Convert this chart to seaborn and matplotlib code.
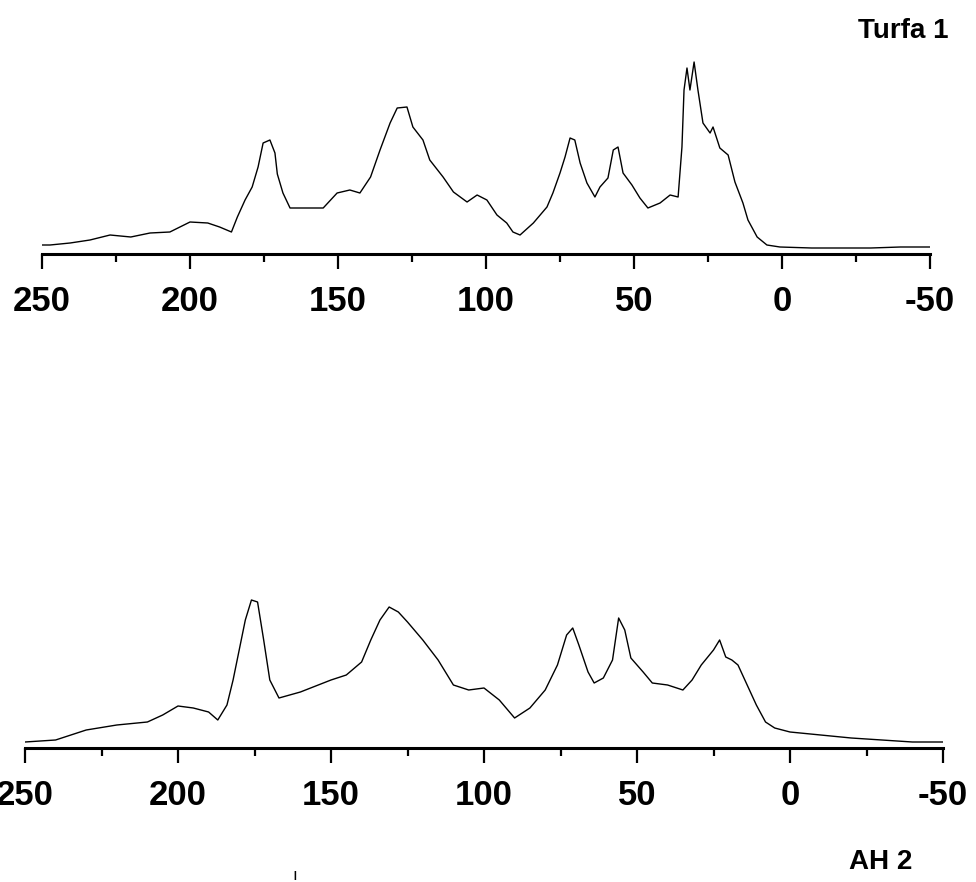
import matplotlib
matplotlib.use("Agg")
import matplotlib.pyplot as plt
from matplotlib.ticker import MultipleLocator
import seaborn as sns
import pandas as pd

# ---- data ----
turfa_ppm = [250, 247.3, 240.5, 233.8, 227, 220, 213.5, 206.8, 200, 194, 190, 186, 184, 181.4, 179,
             177, 175.3, 173, 171.3, 170.5, 168.6, 166.2, 161.8, 155, 150.3, 146, 142.6, 139, 135.8,
             132.4, 130, 126.7, 124.7, 121.3, 119, 114.5, 111, 106.4, 103, 99.7, 96.3, 93, 90.9, 88.5,
             84, 79.4, 77.4, 75, 73.3, 71.6, 70, 68.2, 65.9, 63.2, 61.5, 58.8, 57, 55.4, 53.7, 50.7,
             48, 45.3, 41.2, 37.8, 35.1, 33.8, 33.1, 32.1, 31.1, 29.7, 28.4, 26.7, 24.3, 23.3, 21,
             18.2, 15.9, 13.2, 11.5, 8.4, 5.1, 0.7, -10, -20, -30, -40, -50]
turfa_int = [9, 9, 11, 14, 19, 17, 21, 22, 32, 31, 27, 22, 37, 54, 67,
             87, 111, 114, 101, 80, 61, 46, 46, 46, 61, 64, 61, 77, 104,
             131, 146, 147, 127, 114, 94, 77, 62, 52, 59, 54, 39, 31, 22, 19,
             31, 47, 61, 81, 97, 116, 114, 91, 71, 57, 67, 76, 104, 107, 81, 69,
             56, 46, 51, 59, 57, 107, 164, 186, 164, 192, 164, 131, 121, 127, 106,
             99, 72, 51, 34, 17, 9, 7, 6, 6, 6, 7, 7]

ah2_ppm = [250, 240, 230, 220, 210, 205, 200, 195, 190, 187, 184, 182, 180, 178, 176, 174, 172,
           170, 167, 160, 150, 145, 140, 137, 134, 131, 128, 125, 120, 115, 110, 105, 100, 95,
           90, 85, 80, 76, 73, 71, 69, 66, 64, 61, 58, 56, 54, 52, 48, 45, 40, 35, 32, 29, 25,
           23, 21, 19, 17, 14, 11, 8, 5, 0, -10, -20, -30, -40, -50]
ah2_int = [6, 8, 18, 23, 26, 33, 42, 40, 36, 28, 43, 68, 98, 128, 148, 146, 108,
           68, 50, 56, 68, 73, 86, 108, 128, 141, 136, 126, 108, 88, 63, 58, 60, 48,
           30, 40, 58, 83, 113, 120, 103, 76, 65, 70, 88, 130, 118, 90, 76, 65, 63, 58, 68, 83, 98,
           108, 91, 88, 83, 63, 43, 26, 20, 16, 13, 10, 8, 6, 6]

tick_major = [250, 200, 150, 100, 50, 0, -50]
tick_labels = ["250", "200", "150", "100", "50", "0", "-50"]
panel_titles = ["Turfa 1", "AH 2"]

# ---- style ----
sns.set_style("white")
plt.rcParams["font.family"] = ["Liberation Sans", "DejaVu Sans"]
plt.rcParams["text.color"] = "black"

W, H = 976, 882
fig = plt.figure(figsize=(W / 100, H / 100), dpi=100)

def make_axes(left_px, right_px, base_px, height_px):
    return fig.add_axes([left_px / W, 1 - base_px / H, (right_px - left_px) / W, height_px / H])

ax1 = make_axes(42, 930, 254, 214)
ax2 = make_axes(25, 943, 748, 170)

df1 = pd.DataFrame({"ppm": turfa_ppm, "intensity": turfa_int})
df2 = pd.DataFrame({"ppm": ah2_ppm, "intensity": ah2_int})

for ax, df, ymax in [(ax1, df1, 214), (ax2, df2, 170)]:
    sns.lineplot(data=df, x="ppm", y="intensity", ax=ax, color="black", linewidth=1.0,
                 sort=False, estimator=None)
    ax.set_xlim(250, -50)
    ax.set_ylim(0, ymax)
    for s in ["top", "left", "right"]:
        ax.spines[s].set_visible(False)
    ax.spines["bottom"].set_linewidth(2.2)
    ax.spines["bottom"].set_color("black")
    ax.set_xticks(tick_major)
    ax.set_xticklabels(tick_labels)
    ax.xaxis.set_minor_locator(MultipleLocator(25))
    ax.tick_params(axis="x", which="major", bottom=True, direction="out", length=11, width=1.6,
                   colors="black", pad=11, labelsize=25)
    ax.tick_params(axis="x", which="minor", bottom=True, direction="out", length=5.5, width=1.6,
                   colors="black")
    for lab in ax.get_xticklabels():
        lab.set_fontweight("bold")
    ax.set_yticks([])
    ax.set_xlabel("")
    ax.set_ylabel("")
    ax.patch.set_alpha(0)

fig.text(948 / W, 1 - 31 / H, panel_titles[0], ha="right", va="center",
         fontsize=20, fontweight="bold", color="black")
fig.text(912 / W, 1 - 862 / H, panel_titles[1], ha="right", va="center",
         fontsize=20, fontweight="bold", color="black")
fig.text(295 / W, 1 - 876 / H, "ı", ha="center", va="center", fontsize=12, color="black")

fig.savefig("out.png", dpi=100, facecolor="white")
